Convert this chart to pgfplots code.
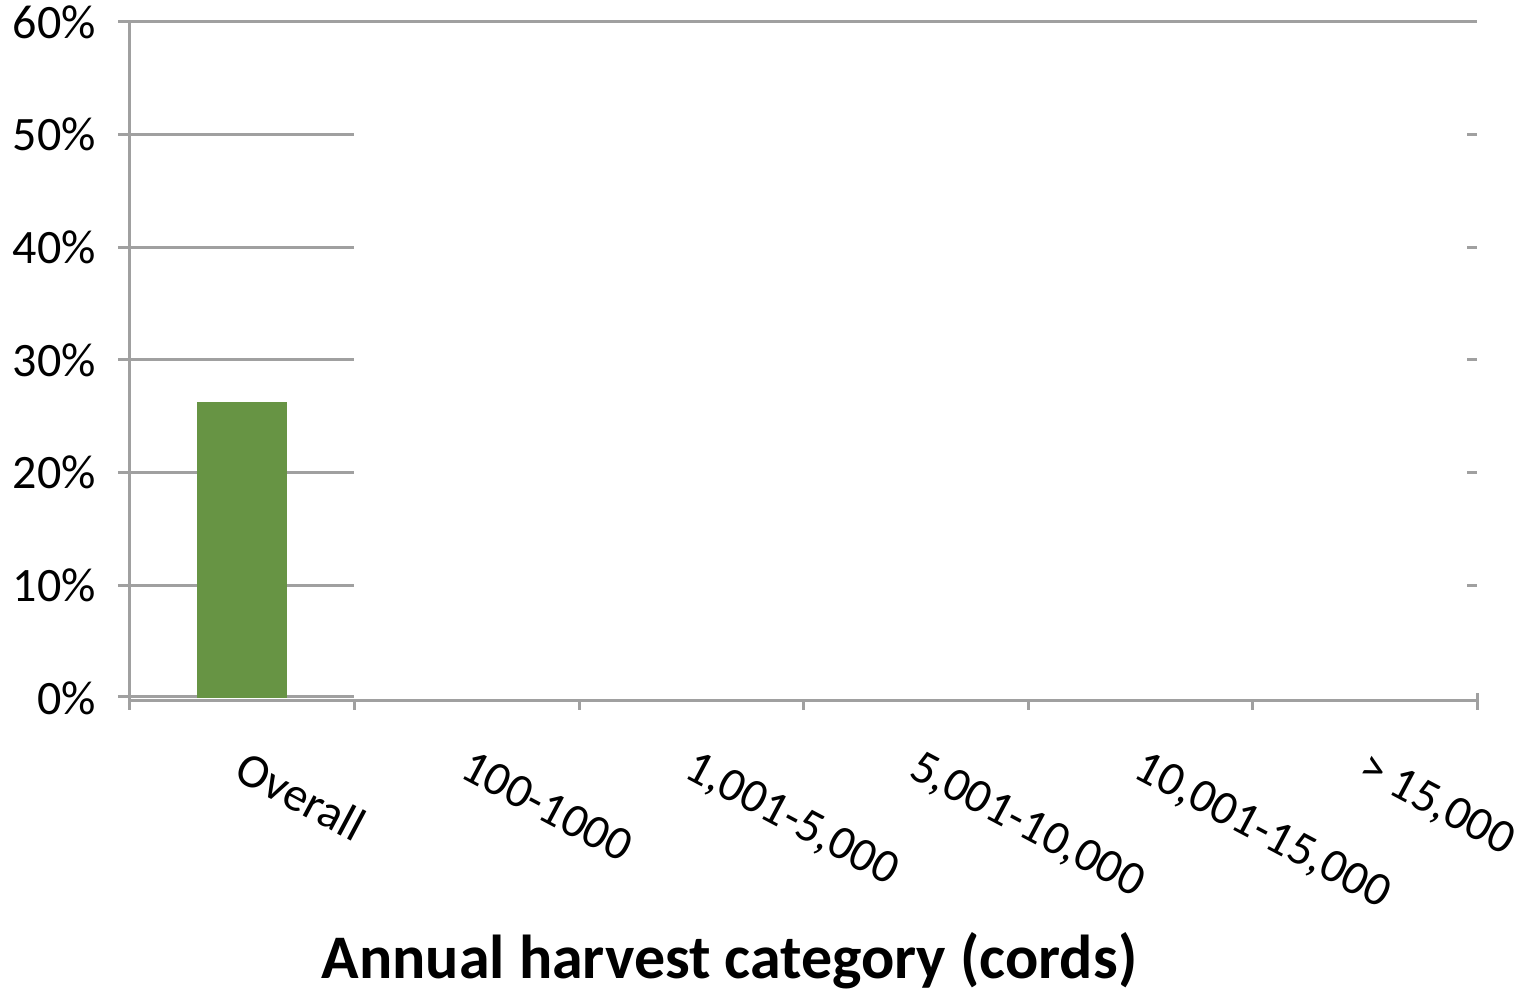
\documentclass[border=0pt]{standalone}
\usepackage{pgfplots}
\pgfplotsset{compat=1.18}
\usepackage{fontspec}
\setmainfont{Carlito}
\definecolor{bargreen}{RGB}{103,148,68}
\definecolor{axgray}{RGB}{160,160,160}
\begin{document}
\begin{tikzpicture}
\begin{axis}[
  scale only axis,
  width=336.75pt, height=169pt,
  xmin=-0.5, xmax=5.5, ymin=0, ymax=60,
  axis line style={draw=none},
  xtick={0,1,2,3,4,5},
  xticklabels={Overall,100-1000,{1,001-5,000},{5,001-10,000},{10,001-15,000},{> 15,000}},
  ytick={0,10,20,30,40,50,60},
  yticklabels={0\%,10\%,20\%,30\%,40\%,50\%,60\%},
  major tick length=0pt,
  tick style={draw=none},
  ticklabel style={font=\fontsize{12}{14}\selectfont},
  yticklabel style={xshift=-5pt},
  xticklabel style={rotate=-28, anchor=north west, xshift=3.8pt, yshift=-7pt},
  clip=false,
]
\pgfplotsinvokeforeach{10,20,30,40,50}{
  \draw[axgray, line width=0.75pt] (axis cs:-0.5535,#1) -- (axis cs:0.5,#1);
  \draw[axgray, line width=0.75pt] (axis cs:5.5,#1) -- (axis cs:5.4555,#1);
}
\draw[axgray, line width=0.75pt] (axis cs:5.5,60) -- (axis cs:-0.5535,60);
\draw[axgray, line width=0.75pt] (axis cs:-0.5535,0.15) -- (axis cs:0.5,0.15);
\draw[axgray, line width=0.75pt] (axis cs:-0.5,60) -- (axis cs:-0.5,-1.1);
\draw[axgray, line width=0.75pt] (axis cs:-0.5,-0.18) -- (axis cs:5.5,-0.18) -- (axis cs:5.5,0.4);
\pgfplotsinvokeforeach{0.5,1.5,2.5,3.5,4.5,5.5}{
  \draw[axgray, line width=0.75pt] (axis cs:#1,-0.18) -- (axis cs:#1,-1.1);
}
\addplot[ybar, bar width=22.5pt, fill=bargreen, draw=none] coordinates {(0,26.3)};
\node[anchor=base, font=\bfseries\fontsize{15.5}{18}\selectfont] at (axis cs:2.17,-24.9) {Annual harvest category (cords)};
\end{axis}
\pgfresetboundingbox
\path (-32.5pt,-73.25pt) rectangle (348pt,174.5pt);
\end{tikzpicture}
\end{document}
